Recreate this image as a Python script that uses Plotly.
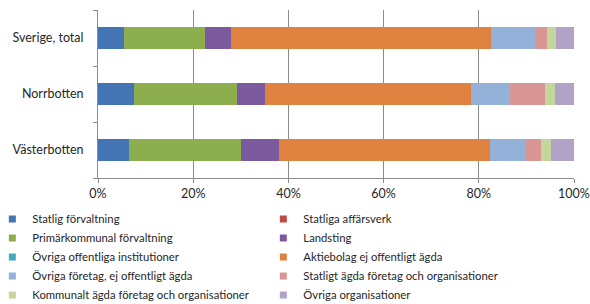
import plotly.graph_objects as go

regions = ["Sverige, total", "Norrbotten", "Västerbotten"]
series_names = [
    "Statlig förvaltning",
    "Statliga affärsverk",
    "Primärkommunal förvaltning",
    "Landsting",
    "Övriga offentliga institutioner",
    "Aktiebolag ej offentligt ägda",
    "Övriga företag, ej offentligt ägda",
    "Statligt ägda företag och organisationer",
    "Kommunalt ägda företag och organisationer",
    "Övriga organisationer",
]
statlig_forvaltning = [5.4, 7.5, 6.6]
statliga_affarsverk = [0.0, 0.0, 0.0]
primarkommunal = [17.1, 21.6, 23.4]
landsting = [5.5, 5.9, 8.1]
ovriga_offentliga = [0.0, 0.0, 0.0]
aktiebolag = [54.6, 43.3, 44.3]
ovriga_foretag = [9.2, 8.2, 7.4]
statligt_agda = [2.5, 7.4, 3.2]
kommunalt_agda = [1.9, 2.1, 2.1]
ovriga_org = [3.8, 4.0, 4.9]

series_values = [statlig_forvaltning, statliga_affarsverk, primarkommunal, landsting,
                 ovriga_offentliga, aktiebolag, ovriga_foretag, statligt_agda,
                 kommunalt_agda, ovriga_org]
colors = ["#4374B3", "#BE4B48", "#8DAE4E", "#7B5B9E", "#46A9C4",
          "#DF8240", "#94B1D9", "#D99694", "#C3D69B", "#B2A2C8"]

x_ticks = [0, 20, 40, 60, 80, 100]
x_ticklabels = ["0%", "20%", "40%", "60%", "80%", "100%"]

FONT = "Lato"
fig = go.Figure()
for name, vals, col in zip(series_names, series_values, colors):
    fig.add_trace(go.Bar(
        y=regions, x=vals, name=name, orientation="h",
        marker=dict(color=col, line=dict(width=0)),
        showlegend=False,
    ))
for name, col in zip(series_names, colors):
    fig.add_trace(go.Scatter(
        x=[None], y=[None], mode="markers", name=name,
        marker=dict(symbol="square", size=7, color=col),
    ))

fig.update_layout(
    width=590, height=304,
    barmode="stack", bargap=0.6,
    margin=dict(l=98, r=16, t=10, b=126, autoexpand=False),
    paper_bgcolor="white", plot_bgcolor="white",
    font=dict(family=FONT, size=12, color="#262626"),
    legend=dict(
        orientation="h", traceorder="normal",
        x=-0.222, xanchor="left", y=-0.158, yanchor="top",
        entrywidth=226, entrywidthmode="pixels",
        font=dict(family=FONT, size=11.3, color="#262626"),
        itemwidth=30, bgcolor="rgba(0,0,0,0)",
    ),
    xaxis=dict(
        range=[0, 100], tickvals=x_ticks, ticktext=x_ticklabels,
        showgrid=True, gridcolor="#8C8C8C", gridwidth=1,
        showline=True, linecolor="#8C8C8C", linewidth=1,
        ticks="outside", ticklen=4, tickcolor="#8C8C8C",
        ticklabeloverflow="allow", tickfont=dict(size=12.5),
        zeroline=False, fixedrange=True,
    ),
    yaxis=dict(
        categoryorder="array", categoryarray=regions[::-1],
        showline=True, linecolor="#8C8C8C", linewidth=1,
        showgrid=False, ticklabelstandoff=11,
        ticks="outside", ticklen=4, tickcolor="#8C8C8C", tickson="boundaries",
        tickfont=dict(size=12.5),
        fixedrange=True,
    ),
)

fig.write_html("out.html", config={"displayModeBar": False},
               post_script="document.body.style.margin='0';")
